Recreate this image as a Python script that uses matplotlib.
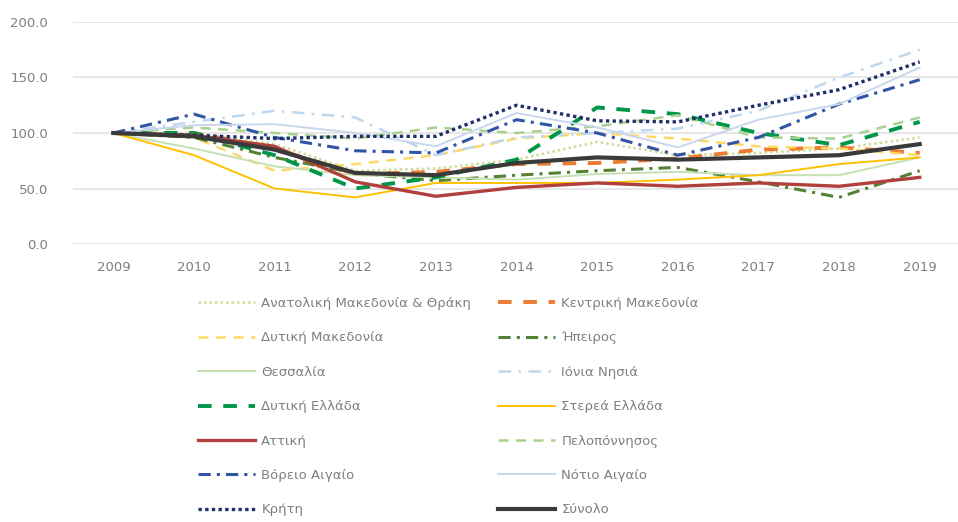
import matplotlib.pyplot as plt

plt.rcParams['font.family'] = ['DejaVu Sans']

# Έτη
years = [2009, 2010, 2011, 2012, 2013, 2014, 2015, 2016, 2017, 2018, 2019]

# Δείκτες ανά περιφέρεια (2009 = 100)
anat_makedonia = [100, 100, 90, 66, 68, 76, 92, 80, 82, 86, 96]
kentr_makedonia = [100, 100, 86, 63, 65, 72, 73, 77, 85, 87, 82]
dyt_makedonia = [100, 96, 66, 72, 80, 95, 100, 95, 88, 86, 80]
ipeiros = [100, 96, 78, 64, 57, 62, 66, 69, 56, 42, 66]
thessalia = [100, 86, 70, 62, 60, 58, 63, 65, 62, 62, 78]
ionia = [100, 110, 120, 114, 80, 96, 100, 104, 120, 150, 175]
dyt_ellada = [100, 100, 80, 50, 60, 76, 123, 117, 100, 89, 110]
sterea = [100, 80, 50, 42, 55, 55, 55, 58, 62, 72, 78]
attiki = [100, 98, 88, 56, 43, 51, 55, 52, 55, 52, 60]
peloponnisos = [100, 105, 100, 95, 105, 100, 106, 116, 96, 95, 114]
voreio_aigaio = [100, 117, 96, 84, 82, 112, 100, 80, 96, 126, 148]
notio_aigaio = [100, 107, 108, 100, 88, 118, 105, 87, 112, 126, 159]
kriti = [100, 98, 95, 97, 97, 125, 111, 110, 125, 139, 164]
synolo = [100, 97, 85, 64, 62, 73, 78, 76, 78, 80, 90]

series = [
    ('Ανατολική Μακεδονία & Θράκη', anat_makedonia, '#cfdc9a', (0, (1, 1.2)), 1.8),
    ('Κεντρική Μακεδονία', kentr_makedonia, '#ED7D31', (0, (3.5, 3)), 2.8),
    ('Δυτική Μακεδονία', dyt_makedonia, '#FFD966', (0, (4, 3)), 1.8),
    ('Ήπειρος', ipeiros, '#548235', (0, (4, 2, 1, 2)), 2.2),
    ('Θεσσαλία', thessalia, '#C5E0B4', '-', 1.4),
    ('Ιόνια Νησιά', ionia, '#BDD7EE', (0, (5, 3, 1, 3)), 1.8),
    ('Δυτική Ελλάδα', dyt_ellada, '#00964a', (0, (3.5, 3)), 2.8),
    ('Στερεά Ελλάδα', sterea, '#FFC000', '-', 1.4),
    ('Αττική', attiki, '#B0403B', '-', 2.4),
    ('Πελοπόννησος', peloponnisos, '#A9D18E', (0, (4, 3)), 1.8),
    ('Βόρειο Αιγαίο', voreio_aigaio, '#2F55A4', (0, (4, 2, 1, 2)), 2.2),
    ('Νότιο Αιγαίο', notio_aigaio, '#C9D6EE', '-', 1.4),
    ('Κρήτη', kriti, '#1F2F6B', (0, (1, 1)), 2.4),
    ('Σύνολο', synolo, '#3a3a3a', '-', 3.0),
]

fig = plt.figure(figsize=(9.58, 5.22), dpi=100)
ax = fig.add_axes([73 / 958, 1 - 244 / 522, 887 / 958, 222 / 522])

handles = []
for name, vals, color, ls, lw in series:
    line, = ax.plot(years, vals, color=color, linestyle=ls, linewidth=lw, label=name)
    handles.append(line)

ax.set_xlim(2008.5, 2019.5)
ax.set_ylim(0, 200)
ax.set_xticks(years)
ax.set_yticks([0, 50, 100, 150, 200])
ax.set_yticklabels(['0.0', '50.0', '100.0', '150.0', '200.0'])
ax.tick_params(axis='both', length=0, labelsize=9.5, colors='#7f7f7f')
ax.tick_params(axis='x', pad=12)
ax.tick_params(axis='y', pad=18)
ax.grid(axis='y', color='#e3e3e3', linewidth=1.2)
ax.set_axisbelow(True)
for s in ax.spines.values():
    s.set_visible(False)

# Υπόμνημα σε δύο στήλες
left = handles[0::2]
right = handles[1::2]
leg_kw = dict(frameon=False, fontsize=9.5, handlelength=4.3, handletextpad=0.5,
              labelspacing=1.62, borderpad=0, borderaxespad=0, loc='upper left',
              labelcolor='#7f7f7f')
fig.legend(handles=left, labels=[h.get_label() for h in left],
           bbox_to_anchor=(198 / 958, 1 - 297 / 522), **leg_kw)
fig.legend(handles=right, labels=[h.get_label() for h in right],
           bbox_to_anchor=(498 / 958, 1 - 297 / 522), **leg_kw)

fig.savefig('out.png', dpi=100)
